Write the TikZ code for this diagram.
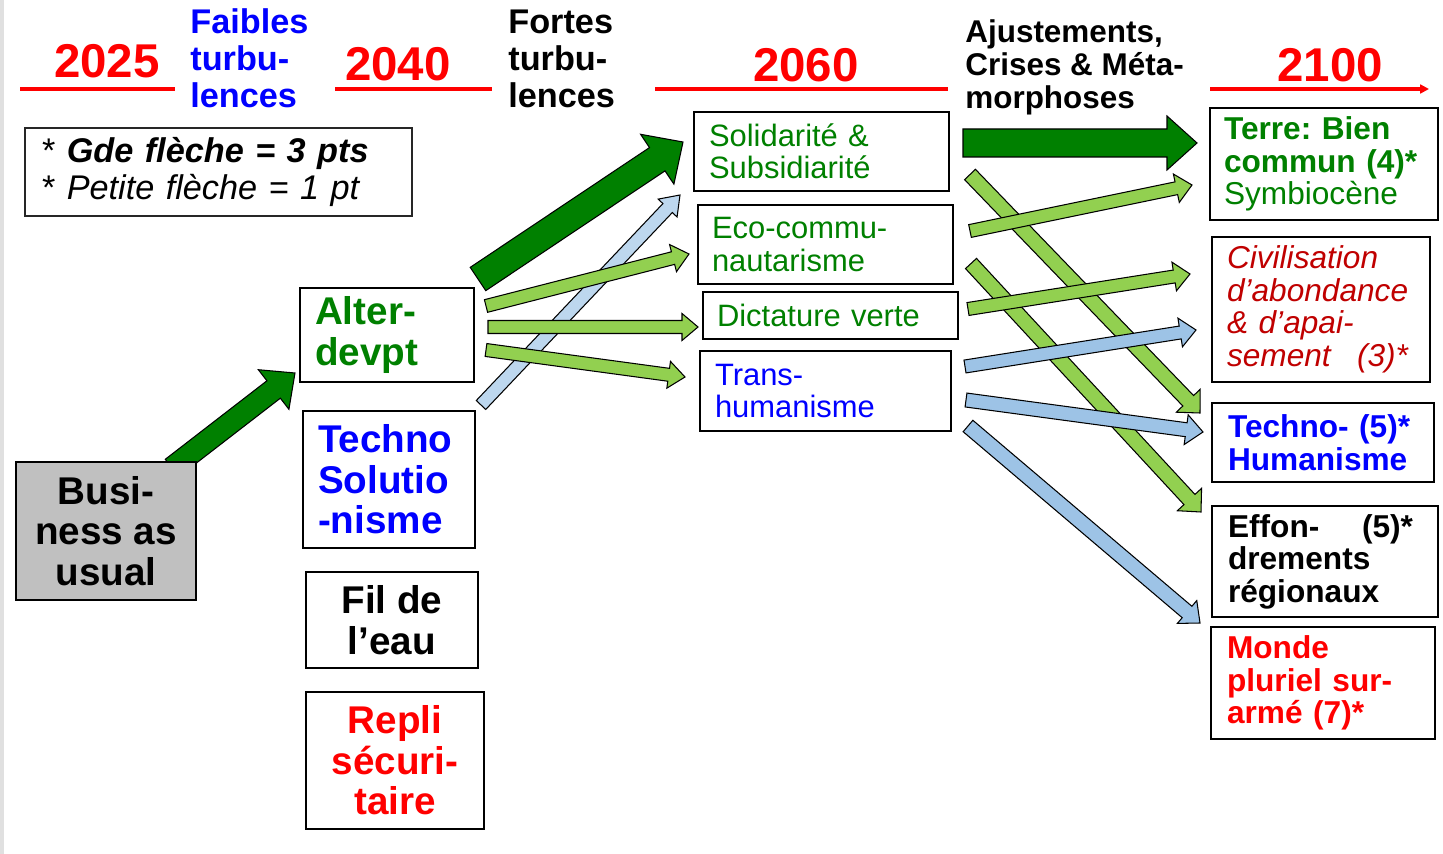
\documentclass[tikz,border=0pt]{standalone}
\usepackage{fontspec}
\setmainfont{Liberation Sans}
\usepackage{xcolor}
\usepackage{tikz}
\usetikzlibrary{calc, arrows.meta, backgrounds}
\definecolor{ptgreen}{RGB}{0,128,0}
\definecolor{ptblue}{RGB}{0,0,255}
\definecolor{ptred}{RGB}{255,0,0}
\definecolor{ptdarkred}{RGB}{192,0,0}
\definecolor{lightgreen}{RGB}{146,208,80}
\definecolor{lightblue}{RGB}{157,195,230}
\definecolor{paleblue}{RGB}{189,215,238}
\definecolor{baugray}{RGB}{192,192,192}
\tikzstyle{box} = [rectangle, draw=black, line width=1.6pt, fill=white, inner sep=0pt, align=left]
\tikzstyle{bigbox} = [box, font=\fontsize{22}{23}\selectfont\bfseries]
\tikzstyle{midbox} = [box, font=\fontsize{17.6}{18.5}\selectfont]
\tikzstyle{endbox} = [box, font=\fontsize{18}{18.5}\selectfont]
\tikzstyle{year} = [text=ptred, font=\fontsize{27}{28}\selectfont\bfseries, inner sep=0pt]
\tikzstyle{period} = [font=\fontsize{19.5}{21}\selectfont\bfseries, inner sep=0pt, align=left, anchor=west]
\tikzstyle{timeline} = [ptred, line width=1.8pt]
\tikzstyle{fatarrow} = [draw=black, line width=0.6pt, fill=ptgreen]
\tikzstyle{greenarrow} = [draw=black, line width=0.6pt, fill=lightgreen]
\tikzstyle{bluearrow} = [draw=black, line width=0.6pt, fill=lightblue]
\tikzstyle{palearrow} = [draw=black, line width=0.6pt, fill=paleblue]
% block arrow: style, tail, tip, half shaft, half head, head length
\newcommand{\flecheblock}[6]{%
  \coordinate (fb) at ($(#3)!#6!(#2)$);
  \draw[#1] ($(#2)!#4!90:(#3)$) -- ($(fb)!#4!-90:(#2)$) -- ($(fb)!#5!-90:(#2)$) -- (#3)
    -- ($(fb)!#5!90:(#2)$) -- ($(fb)!#4!90:(#2)$) -- ($(#2)!#4!-90:(#3)$) -- cycle;}

\begin{document}
\frenchspacing
\begin{tikzpicture}[x=0.02cm, y=-0.02cm]
    \useasboundingbox (0,0) rectangle (1443,854);
    \fill[black!12] (0,0) rectangle (4,854);

    % time line
    \node (y2025) [year] at (107,61) {2025};
    \node (y2040) [year] at (398,64) {2040};
    \node (y2060) [year] at (806,65) {2060};
    \node (y2100) [year] at (1330,65) {2100};
    \node (faibles) [period, text=ptblue] at (190,58.5) {Faibles\\turbu-\\lences};
    \node (fortes) [period] at (508,58.5) {Fortes\\turbu-\\lences};
    \node (ajust) [period, font=\fontsize{17.9}{18.8}\selectfont\bfseries] at (965,67) {Ajustements,\\Crises \& Méta-\\morphoses};
    \coordinate (t1a) at (20,89);   \coordinate (t1b) at (175,89);
    \coordinate (t2a) at (335,89);  \coordinate (t2b) at (492,89);
    \coordinate (t3a) at (655,89);  \coordinate (t3b) at (948,89);
    \coordinate (t4a) at (1210,89); \coordinate (t4b) at (1429,89);
    \draw [timeline] (t1a) -- (t1b);
    \draw [timeline] (t2a) -- (t2b);
    \draw [timeline] (t3a) -- (t3b);
    \draw [timeline, -{Triangle[length=5pt, width=5pt]}] (t4a) -- (t4b);

    \node (legend) [box, line width=0.7pt, draw=black!85, minimum width=7.74cm, minimum height=1.76cm, text width=7.06cm, font=\fontsize{19.5}{20.5}\selectfont] at (218.5,172) {* \textbf{\textit{Gde flèche = 3 pts}}\\\mbox{*} \textit{Petite flèche = 1 pt}};

    % 2025 - 2040
    \node (bau) [bigbox, fill=baugray, align=center, minimum width=3.6cm, minimum height=2.76cm] at (106,531) {Busi-\\ness as\\usual};
    \node (alter) [bigbox, text=ptgreen, minimum width=3.48cm, minimum height=1.88cm, text width=2.88cm] at (387,335) {Alter-\\devpt};
    \node (techno) [bigbox, text=ptblue, minimum width=3.44cm, minimum height=2.74cm, text width=2.84cm] at (389,479.5) {Techno\\Solutio\\-nisme};
    \node (fil) [bigbox, align=center, minimum width=3.44cm, minimum height=1.92cm] at (392,620) {Fil de\\l’eau};
    \node (repli) [bigbox, text=ptred, align=center, minimum width=3.56cm, minimum height=2.74cm] at (395,760.5) {Repli\\sécuri-\\taire};

    % 2060
    \node (solid) [midbox, text=ptgreen, minimum width=5.1cm, minimum height=1.58cm, text width=4.5cm] at (821.5,151.5) {Solidarité \&\\Subsidiarité};
    \node (eco) [midbox, text=ptgreen, minimum width=5.1cm, minimum height=1.58cm, text width=4.54cm] at (825.5,244.5) {Eco-commu-\\nautarisme};
    \node (dicta) [midbox, text=ptgreen, minimum width=5.1cm, minimum height=0.94cm, text width=4.54cm] at (830.5,315.5) {Dictature verte};
    \node (trans) [midbox, text=ptblue, minimum width=5.02cm, minimum height=1.6cm, text width=4.42cm] at (825.5,391) {Trans-\\humanisme};

    % 2100
    \node (terre) [endbox, text=ptgreen, minimum width=4.56cm, minimum height=2.24cm, text width=4.0cm] at (1324,164) {\textbf{Terre: Bien}\\\textbf{commun (4)*}\\Symbiocène};
    \node (civil) [endbox, text=ptdarkred, font=\fontsize{18}{18.5}\selectfont\itshape, minimum width=4.36cm, minimum height=2.9cm, text width=3.76cm] at (1321,309.5) {Civilisation\\d’abondance\\\& d’apai-\\sement\hfill(3)*\kern0.14cm};
    \node (techhum) [endbox, text=ptblue, font=\fontsize{18}{18.5}\selectfont\bfseries, minimum width=4.44cm, minimum height=1.58cm, text width=3.8cm] at (1323,442.5) {Techno- (5)*\\Humanisme};
    \node (effon) [endbox, font=\fontsize{18}{18.5}\selectfont\bfseries, minimum width=4.52cm, minimum height=2.22cm, text width=3.88cm] at (1325,561.5) {Effon-\hfill(5)*\kern0.18cm\\drements\\régionaux};
    \node (monde) [endbox, text=ptred, font=\fontsize{18}{18.5}\selectfont\bfseries, minimum width=4.48cm, minimum height=2.24cm, text width=3.84cm] at (1323,683) {Monde\\pluriel sur-\\armé (7)*};

    % arrows
    \coordinate (a1s) at (172,468);   \coordinate (a1e) at (295,373);
    \coordinate (a2s) at (478,279);   \coordinate (a2e) at (683,142);
    \coordinate (a3s) at (481,405);   \coordinate (a3e) at (680,195);
    \coordinate (a4s) at (486,306);   \coordinate (a4e) at (689,254);
    \coordinate (a5s) at (488,327);   \coordinate (a5e) at (698,327);
    \coordinate (a6s) at (486,350);   \coordinate (a6e) at (685,377);
    \coordinate (a7s) at (963,143);   \coordinate (a7e) at (1197,143);
    \coordinate (a8s) at (970,174.5); \coordinate (a8e) at (1200,413);
    \coordinate (a9s) at (970,231);   \coordinate (a9e) at (1192,185);
    \coordinate (a10s) at (971,263.5); \coordinate (a10e) at (1201,512);
    \coordinate (a11s) at (968,309);  \coordinate (a11e) at (1190,274);
    \coordinate (a12s) at (965,366.5); \coordinate (a12e) at (1196,330);
    \coordinate (a13s) at (966,400);  \coordinate (a13e) at (1203,432);
    \coordinate (a14s) at (968,426);  \coordinate (a14e) at (1200,623);
    \begin{scope}[on background layer]
        \flecheblock{fatarrow}{a1s}{a1e}{0.22cm}{0.5cm}{0.54cm}
        \flecheblock{palearrow}{a3s}{a3e}{0.13cm}{0.26cm}{0.36cm}
        \flecheblock{greenarrow}{a4s}{a4e}{0.13cm}{0.28cm}{0.33cm}
        \flecheblock{greenarrow}{a5s}{a5e}{0.13cm}{0.27cm}{0.32cm}
        \flecheblock{greenarrow}{a6s}{a6e}{0.13cm}{0.27cm}{0.33cm}
        \flecheblock{fatarrow}{a2s}{a2e}{0.28cm}{0.6cm}{0.62cm}
        \flecheblock{fatarrow}{a7s}{a7e}{0.28cm}{0.54cm}{0.6cm}
        \flecheblock{greenarrow}{a8s}{a8e}{0.15cm}{0.33cm}{0.34cm}
        \flecheblock{greenarrow}{a10s}{a10e}{0.15cm}{0.33cm}{0.34cm}
        \flecheblock{greenarrow}{a9s}{a9e}{0.13cm}{0.29cm}{0.32cm}
        \flecheblock{greenarrow}{a11s}{a11e}{0.13cm}{0.29cm}{0.32cm}
        \flecheblock{bluearrow}{a12s}{a12e}{0.13cm}{0.29cm}{0.32cm}
        \flecheblock{bluearrow}{a13s}{a13e}{0.14cm}{0.3cm}{0.34cm}
        \flecheblock{bluearrow}{a14s}{a14e}{0.15cm}{0.3cm}{0.34cm}
    \end{scope}
\end{tikzpicture}
\end{document}
